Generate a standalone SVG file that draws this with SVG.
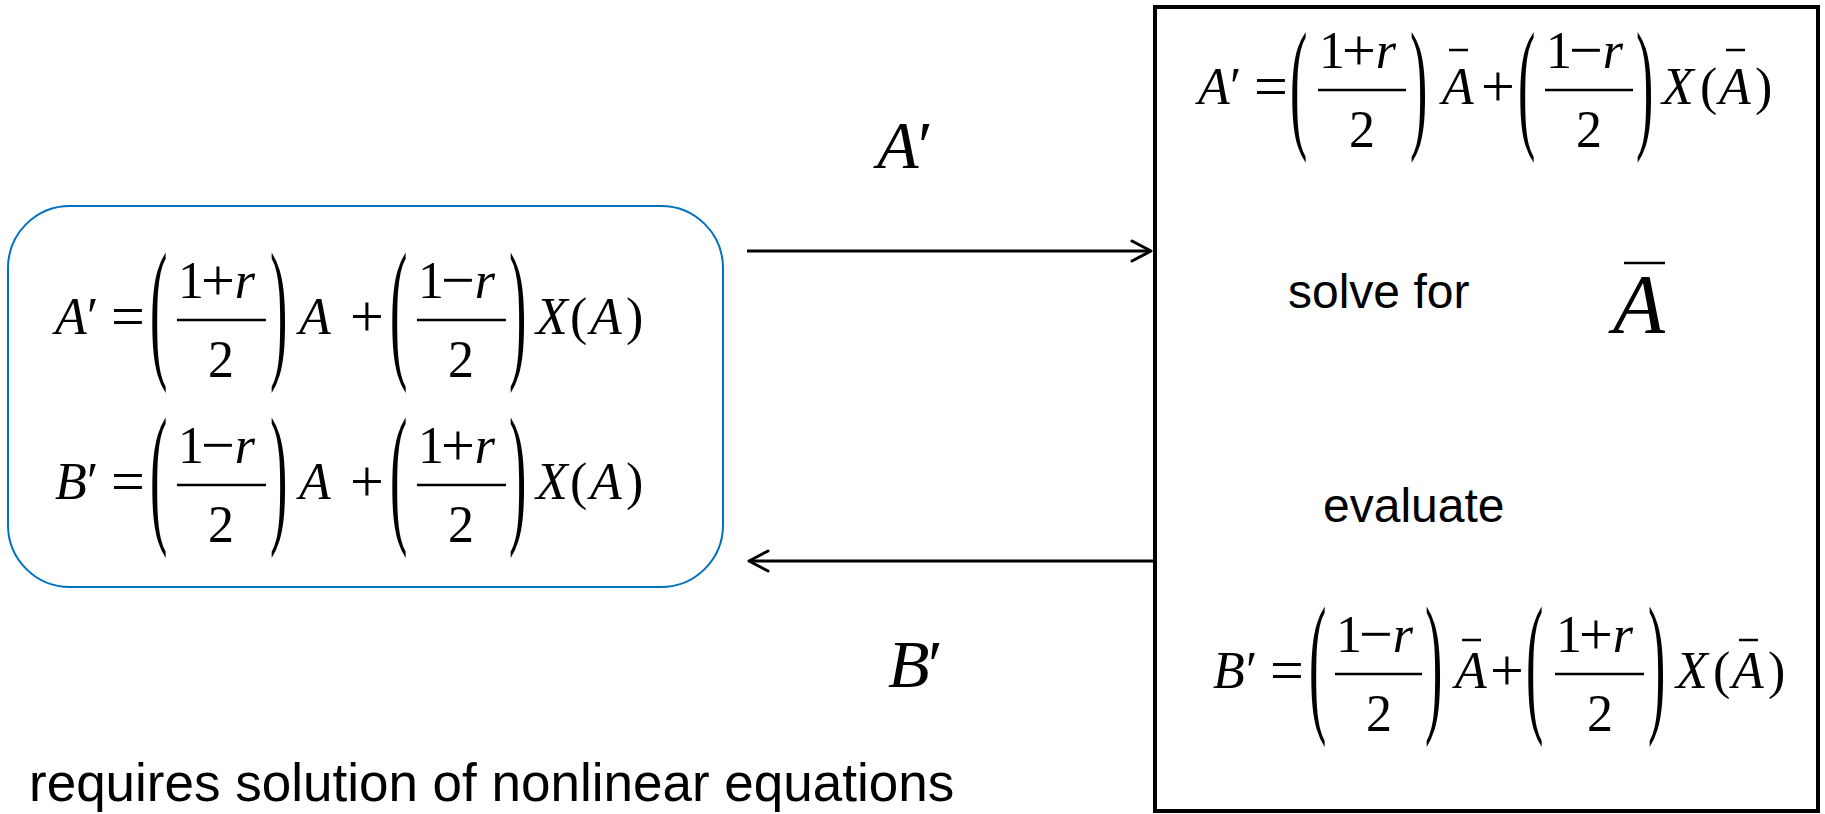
<svg xmlns="http://www.w3.org/2000/svg" width="1825" height="814" viewBox="0 0 1825 814">
<style>
.m{font-family:"Liberation Serif","DejaVu Serif",serif;font-size:52px;fill:#000}
.i{font-style:italic}
.o{font-family:"Liberation Serif","DejaVu Serif",serif;font-size:60px;fill:#000}
.p{font-family:"Liberation Serif","DejaVu Serif",serif;font-size:52px;fill:#000}
.fl{stroke:#000;stroke-width:2.5;fill:none}
.bar{stroke:#000;stroke-width:2.5;fill:none}
.t{font-family:"Liberation Sans",Arial,sans-serif;fill:#000}
.conn{stroke:#000;stroke-width:3;fill:none}
</style>
<defs>
<marker id="ah" markerUnits="userSpaceOnUse" markerWidth="30" markerHeight="30" viewBox="-25 -15 30 30" refX="0" refY="0" orient="auto">
<path d="M-19,-10 L0,0 L-19,10" fill="none" stroke="#000" stroke-width="3" stroke-linecap="round" stroke-linejoin="round"/>
</marker>
</defs>

<g id="node-left">
<rect x="8" y="206" width="715" height="381" rx="62" ry="62" fill="#fff" stroke="#0070C0" stroke-width="2"/>
<!-- row 1, F=320 -->
<text class="m i" x="55" y="334">A</text><text class="m" x="87" y="334">′</text>
<text class="o" x="111" y="336">=</text>
<text class="p" transform="translate(150,360) scale(1,2.96)">(</text>
<text class="m" x="178" y="298">1<tspan class="o" dx="-3" dy="2">+</tspan><tspan class="i" dy="-2">r</tspan></text>
<line class="fl" x1="177" y1="320" x2="266" y2="320"/>
<text class="m" x="221" y="377" text-anchor="middle">2</text>
<text class="p" transform="translate(270,360) scale(1,2.96)">)</text>
<text class="m i" x="299" y="334">A</text>
<text class="o" x="350" y="336">+</text>
<text class="p" transform="translate(390,360) scale(1,2.96)">(</text>
<text class="m" x="418" y="298">1<tspan class="o" dx="-3" dy="2">−</tspan><tspan class="i" dy="-2">r</tspan></text>
<line class="fl" x1="417" y1="320" x2="506" y2="320"/>
<text class="m" x="461" y="377" text-anchor="middle">2</text>
<text class="p" transform="translate(509,360) scale(1,2.96)">)</text>
<text class="m i" x="536" y="334">X</text>
<text class="m" x="570" y="334">(</text>
<text class="m i" x="590" y="334">A</text>
<text class="m" x="626" y="334">)</text>
<!-- row 2, F=485 -->
<text class="m i" x="55" y="499">B</text><text class="m" x="87" y="499">′</text>
<text class="o" x="111" y="501">=</text>
<text class="p" transform="translate(150,525) scale(1,2.96)">(</text>
<text class="m" x="178" y="463">1<tspan class="o" dx="-3" dy="2">−</tspan><tspan class="i" dy="-2">r</tspan></text>
<line class="fl" x1="177" y1="485" x2="266" y2="485"/>
<text class="m" x="221" y="542" text-anchor="middle">2</text>
<text class="p" transform="translate(270,525) scale(1,2.96)">)</text>
<text class="m i" x="299" y="499">A</text>
<text class="o" x="350" y="501">+</text>
<text class="p" transform="translate(390,525) scale(1,2.96)">(</text>
<text class="m" x="418" y="463">1<tspan class="o" dx="-3" dy="2">+</tspan><tspan class="i" dy="-2">r</tspan></text>
<line class="fl" x1="417" y1="485" x2="506" y2="485"/>
<text class="m" x="461" y="542" text-anchor="middle">2</text>
<text class="p" transform="translate(509,525) scale(1,2.96)">)</text>
<text class="m i" x="536" y="499">X</text>
<text class="m" x="570" y="499">(</text>
<text class="m i" x="590" y="499">A</text>
<text class="m" x="626" y="499">)</text>
</g>

<g id="node-right">
<rect x="1155" y="7" width="663" height="804" fill="#fff" stroke="#000" stroke-width="4"/>
<!-- top eq, F=90 -->
<text class="m i" x="1198" y="104">A</text><text class="m" x="1230" y="104">′</text>
<text class="o" x="1254" y="106">=</text>
<text class="p" transform="translate(1290,131.5) scale(1,2.78)">(</text>
<text class="m" x="1319" y="68">1<tspan class="o" dx="-3" dy="2">+</tspan><tspan class="i" dy="-2">r</tspan></text>
<line class="fl" x1="1318" y1="90" x2="1406" y2="90"/>
<text class="m" x="1362" y="147" text-anchor="middle">2</text>
<text class="p" transform="translate(1410,131.5) scale(1,2.78)">)</text>
<text class="m i" x="1442" y="104">A</text><line class="bar" x1="1449" y1="50" x2="1468" y2="50"/>
<text class="o" x="1481" y="106">+</text>
<text class="p" transform="translate(1518,131.5) scale(1,2.78)">(</text>
<text class="m" x="1546" y="68">1<tspan class="o" dx="-3" dy="2">−</tspan><tspan class="i" dy="-2">r</tspan></text>
<line class="fl" x1="1545" y1="90" x2="1633" y2="90"/>
<text class="m" x="1589" y="147" text-anchor="middle">2</text>
<text class="p" transform="translate(1636,131.5) scale(1,2.78)">)</text>
<text class="m i" x="1662" y="104">X</text>
<text class="m" x="1700" y="104">(</text>
<text class="m i" x="1719" y="104">A</text><line class="bar" x1="1726" y1="50" x2="1745" y2="50"/>
<text class="m" x="1755" y="104">)</text>

<text class="t" x="1288" y="308" font-size="48">solve for</text>
<text class="m i" x="1613" y="333" style="font-size:85px">A</text>
<line class="bar" x1="1624" y1="263" x2="1665" y2="263" stroke-width="3"/>
<text class="t" x="1323" y="522" font-size="48">evaluate</text>

<!-- bottom eq, F=674 -->
<text class="m i" x="1213" y="688">B</text><text class="m" x="1246" y="688">′</text>
<text class="o" x="1270" y="690">=</text>
<text class="p" transform="translate(1309,714) scale(1,2.96)">(</text>
<text class="m" x="1336" y="652">1<tspan class="o" dx="-3" dy="2">−</tspan><tspan class="i" dy="-2">r</tspan></text>
<line class="fl" x1="1335" y1="674" x2="1422" y2="674"/>
<text class="m" x="1379" y="731" text-anchor="middle">2</text>
<text class="p" transform="translate(1425,714) scale(1,2.96)">)</text>
<text class="m i" x="1455" y="688">A</text><line class="bar" x1="1462" y1="640" x2="1481" y2="640"/>
<text class="o" x="1490" y="690">+</text>
<text class="p" transform="translate(1526,714) scale(1,2.96)">(</text>
<text class="m" x="1556" y="652">1<tspan class="o" dx="-3" dy="2">+</tspan><tspan class="i" dy="-2">r</tspan></text>
<line class="fl" x1="1555" y1="674" x2="1644" y2="674"/>
<text class="m" x="1600" y="731" text-anchor="middle">2</text>
<text class="p" transform="translate(1648,714) scale(1,2.96)">)</text>
<text class="m i" x="1676" y="688">X</text>
<text class="m" x="1713" y="688">(</text>
<text class="m i" x="1732" y="688">A</text><line class="bar" x1="1739" y1="640" x2="1758" y2="640"/>
<text class="m" x="1768" y="688">)</text>
</g>

<g id="connectors">
<line class="conn" x1="747" y1="251" x2="1151" y2="251" marker-end="url(#ah)"/>
<line class="conn" x1="1153" y1="561" x2="749" y2="561" marker-end="url(#ah)"/>
<text class="m i" x="877" y="168" style="font-size:68px">A</text><text class="m" x="918" y="168" style="font-size:68px">′</text>
<text class="m i" x="888" y="687" style="font-size:68px">B</text><text class="m" x="928" y="687" style="font-size:68px">′</text>
</g>

<text class="t" x="29" y="801" font-size="53">requires solution of nonlinear equations</text>
</svg>
